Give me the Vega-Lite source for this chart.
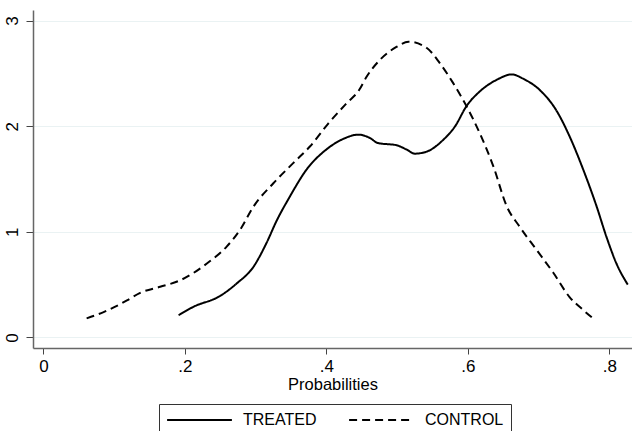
{
  "$schema": "https://vega.github.io/schema/vega-lite/v6.json",
  "width": 599,
  "height": 338,
  "autosize": {"type": "none"},
  "padding": {"left": 33, "top": 10, "right": 0, "bottom": 83},
  "background": "white",
  "config": {
    "view": {"stroke": null},
    "font": "Liberation Sans"
  },
  "data": {
    "values": [
      {"group": "CONTROL", "x": 0.061, "y": 0.18},
      {"group": "CONTROL", "x": 0.085, "y": 0.24},
      {"group": "CONTROL", "x": 0.118, "y": 0.35},
      {"group": "CONTROL", "x": 0.136, "y": 0.42},
      {"group": "CONTROL", "x": 0.165, "y": 0.48},
      {"group": "CONTROL", "x": 0.193, "y": 0.54},
      {"group": "CONTROL", "x": 0.212, "y": 0.61},
      {"group": "CONTROL", "x": 0.231, "y": 0.70},
      {"group": "CONTROL", "x": 0.259, "y": 0.86},
      {"group": "CONTROL", "x": 0.278, "y": 1.02},
      {"group": "CONTROL", "x": 0.297, "y": 1.24},
      {"group": "CONTROL", "x": 0.325, "y": 1.46},
      {"group": "CONTROL", "x": 0.353, "y": 1.65},
      {"group": "CONTROL", "x": 0.377, "y": 1.81},
      {"group": "CONTROL", "x": 0.402, "y": 2.02},
      {"group": "CONTROL", "x": 0.429, "y": 2.22},
      {"group": "CONTROL", "x": 0.446, "y": 2.34},
      {"group": "CONTROL", "x": 0.457, "y": 2.47},
      {"group": "CONTROL", "x": 0.476, "y": 2.63},
      {"group": "CONTROL", "x": 0.499, "y": 2.75},
      {"group": "CONTROL", "x": 0.516, "y": 2.80},
      {"group": "CONTROL", "x": 0.542, "y": 2.74},
      {"group": "CONTROL", "x": 0.560, "y": 2.60},
      {"group": "CONTROL", "x": 0.579, "y": 2.41},
      {"group": "CONTROL", "x": 0.598, "y": 2.19},
      {"group": "CONTROL", "x": 0.617, "y": 1.93},
      {"group": "CONTROL", "x": 0.636, "y": 1.62},
      {"group": "CONTROL", "x": 0.655, "y": 1.24},
      {"group": "CONTROL", "x": 0.673, "y": 1.05},
      {"group": "CONTROL", "x": 0.697, "y": 0.83},
      {"group": "CONTROL", "x": 0.721, "y": 0.61},
      {"group": "CONTROL", "x": 0.744, "y": 0.38},
      {"group": "CONTROL", "x": 0.763, "y": 0.26},
      {"group": "CONTROL", "x": 0.777, "y": 0.18},
      {"group": "TREATED", "x": 0.191, "y": 0.21},
      {"group": "TREATED", "x": 0.212, "y": 0.29},
      {"group": "TREATED", "x": 0.249, "y": 0.39},
      {"group": "TREATED", "x": 0.273, "y": 0.51},
      {"group": "TREATED", "x": 0.297, "y": 0.67},
      {"group": "TREATED", "x": 0.315, "y": 0.89},
      {"group": "TREATED", "x": 0.330, "y": 1.11},
      {"group": "TREATED", "x": 0.348, "y": 1.33},
      {"group": "TREATED", "x": 0.372, "y": 1.59},
      {"group": "TREATED", "x": 0.400, "y": 1.78},
      {"group": "TREATED", "x": 0.424, "y": 1.88},
      {"group": "TREATED", "x": 0.445, "y": 1.92},
      {"group": "TREATED", "x": 0.461, "y": 1.89},
      {"group": "TREATED", "x": 0.473, "y": 1.84},
      {"group": "TREATED", "x": 0.499, "y": 1.82},
      {"group": "TREATED", "x": 0.513, "y": 1.78},
      {"group": "TREATED", "x": 0.525, "y": 1.74},
      {"group": "TREATED", "x": 0.542, "y": 1.76},
      {"group": "TREATED", "x": 0.565, "y": 1.87},
      {"group": "TREATED", "x": 0.582, "y": 2.00},
      {"group": "TREATED", "x": 0.598, "y": 2.19},
      {"group": "TREATED", "x": 0.617, "y": 2.33},
      {"group": "TREATED", "x": 0.641, "y": 2.44},
      {"group": "TREATED", "x": 0.662, "y": 2.49},
      {"group": "TREATED", "x": 0.678, "y": 2.45},
      {"group": "TREATED", "x": 0.702, "y": 2.34},
      {"group": "TREATED", "x": 0.725, "y": 2.15},
      {"group": "TREATED", "x": 0.744, "y": 1.90},
      {"group": "TREATED", "x": 0.763, "y": 1.59},
      {"group": "TREATED", "x": 0.782, "y": 1.24},
      {"group": "TREATED", "x": 0.796, "y": 0.95},
      {"group": "TREATED", "x": 0.810, "y": 0.70},
      {"group": "TREATED", "x": 0.826, "y": 0.50}
    ]
  },
  "mark": {"type": "line", "strokeWidth": 2, "interpolate": "monotone"},
  "encoding": {
    "x": {
      "field": "x",
      "type": "quantitative",
      "scale": {"domain": [-0.0148, 0.832], "nice": false, "zero": false},
      "axis": {
        "values": [0, 0.2, 0.4, 0.6, 0.8],
        "labelExpr": "datum.value == 0 ? '0' : replace(format(datum.value, '.1f'), '0.', '.')",
        "grid": false,
        "title": "Probabilities",
        "titleFont": "Liberation Sans",
        "titleFontSize": 16.5,
        "titleFontWeight": "normal",
        "titleColor": "black",
        "titlePadding": 2,
        "labelFont": "Liberation Sans",
        "labelFontSize": 17,
        "labelColor": "black",
        "labelPadding": 4,
        "tickSize": 6,
        "tickColor": "#444",
        "domainColor": "#666",
        "domainWidth": 1.5,
        "labelFlush": false
      }
    },
    "y": {
      "field": "y",
      "type": "quantitative",
      "scale": {"domain": [-0.1, 3.1], "nice": false, "zero": false},
      "axis": {
        "values": [0, 1, 2, 3],
        "grid": true,
        "gridColor": "#eaf2f3",
        "gridWidth": 1.2,
        "title": null,
        "labelFont": "Liberation Sans",
        "labelFontSize": 17,
        "labelColor": "black",
        "labelAngle": 270,
        "labelAlign": "center",
        "labelBaseline": "bottom",
        "labelPadding": 5,
        "tickSize": 7,
        "tickColor": "#444",
        "domainColor": "#666",
        "domainWidth": 1.5,
        "labelFlush": false
      }
    },
    "strokeDash": {
      "condition": {"test": "datum.group === 'CONTROL'", "value": [8, 5]},
      "value": [1, 0]
    },
    "color": {
      "field": "group",
      "type": "nominal",
      "scale": {"domain": ["TREATED", "CONTROL"], "range": ["black", "black"]},
      "legend": {
        "title": null,
        "orient": "none",
        "legendX": 126,
        "legendY": 394,
        "direction": "horizontal",
        "columns": 2,
        "symbolType": "stroke",
        "symbolSize": 4200,
        "symbolStrokeWidth": 2,
        "clipHeight": 18,
        "labelFont": "Liberation Sans",
        "labelFontSize": 16,
        "labelColor": "black",
        "labelOffset": 10,
        "columnPadding": 31,
        "padding": 7,
        "strokeColor": "#333",
        "fillColor": "white",
        "labelLimit": 200,
        "encode": {
          "symbols": {
            "update": {
              "strokeDash": {"signal": "datum.value === 'CONTROL' ? [8, 5] : [1, 0]"}
            }
          }
        }
      }
    }
  }
}
